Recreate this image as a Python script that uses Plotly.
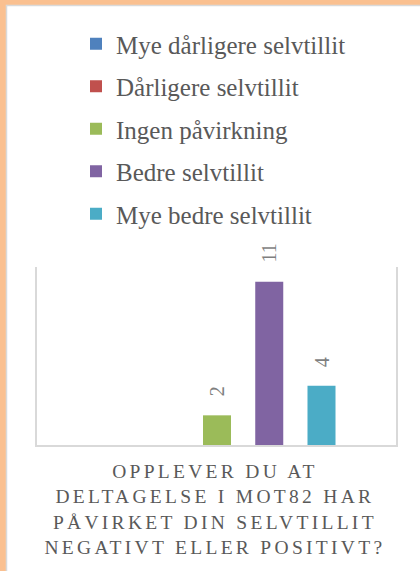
import plotly.graph_objects as go

# ---- data ----
series_names = [
    "Mye dårligere selvtillit",
    "Dårligere selvtillit",
    "Ingen påvirkning",
    "Bedre selvtillit",
    "Mye bedre selvtillit",
]
series_values = [0, 0, 2, 11, 4]
series_colors = ["#4F81BD", "#C0504D", "#9BBB59", "#8064A2", "#4BACC6"]
title_lines = [
    "OPPLEVER DU AT",
    "DELTAGELSE I MOT82 HAR",
    "PÅVIRKET DIN SELVTILLIT",
    "NEGATIVT ELLER POSITIVT?",
]

W, H = 420, 571
ML, MR, MT, MB = 37, 24, 267, 126
PW = W - ML - MR
PH = H - MT - MB


def px_x(px):
    return (px - ML) / PW


def px_y(py):
    return (H - MB - py) / PH


FONT = "Liberation Serif, DejaVu Serif, serif"

fig = go.Figure()
for i, (name, val, col) in enumerate(zip(series_names, series_values, series_colors)):
    fig.add_trace(go.Bar(
        x=[i], y=[val], width=[0.536], name=name,
        marker=dict(color=col, line=dict(width=0)),
        legendgroup=name, hoverinfo="name+y",
    ))

annotations = [dict(
    text="<br>".join(title_lines),
    xref="paper", yref="paper",
    x=px_x(215), y=px_y(459), xanchor="center", yanchor="top",
    showarrow=False, align="center",
    font=dict(family=FONT, size=19.5, color="#595959"),
)]
for i, val in enumerate(series_values):
    if val:
        annotations.append(dict(
            text=str(val), x=i, y=val, xref="x", yref="y",
            xanchor="center", yanchor="bottom", yshift=17,
            textangle=-90, showarrow=False,
            font=dict(family=FONT, size=20, color="#7F7F7F"),
        ))

shapes = [dict(
    type="rect", xref="paper", yref="paper", layer="below",
    x0=px_x(6.5), x1=px_x(430), y0=px_y(580), y1=px_y(5.5),
    fillcolor="white", line=dict(color="#D9D9D9", width=1.5),
)]

fig.update_layout(
    width=W, height=H,
    margin=dict(l=ML, r=MR, t=MT, b=MB, pad=0),
    paper_bgcolor="#FAC090",
    plot_bgcolor="rgba(0,0,0,0)",
    barmode="overlay",
    showlegend=True,
    legend=dict(
        x=px_x(76), y=px_y(21), xanchor="left", yanchor="top",
        orientation="v", traceorder="grouped", tracegroupgap=7,
        font=dict(family=FONT, size=25, color="#595959"),
        bgcolor="rgba(0,0,0,0)",
    ),
    xaxis=dict(range=[-1.445, 5.426], showticklabels=False, ticks="",
               showgrid=False, zeroline=False, showline=True,
               linecolor="#D9D9D9", linewidth=1.5, fixedrange=True),
    yaxis=dict(range=[0, 12], showticklabels=False, ticks="",
               showgrid=False, zeroline=False, showline=True, mirror=True,
               linecolor="#D9D9D9", linewidth=1.5, fixedrange=True),
    annotations=annotations,
    shapes=shapes,
)

post = """
var s = document.createElement('style');
s.textContent = 'html, body { margin: 0; padding: 0; } ' +
  'g.annotation[data-index="0"] text { letter-spacing: 3.3px; }';
document.head.appendChild(s);
"""
fig.write_html("out.html", post_script=post, config={"displayModeBar": False})
